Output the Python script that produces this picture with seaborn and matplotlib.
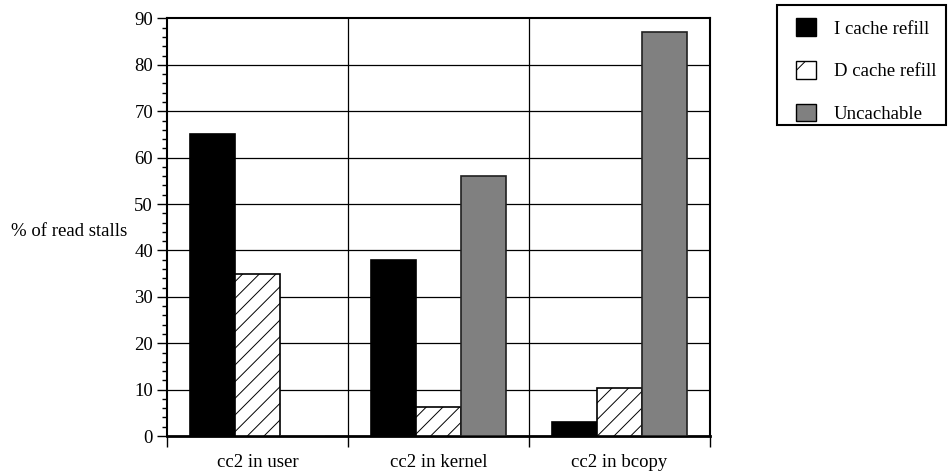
import matplotlib
matplotlib.use("Agg")
import matplotlib.pyplot as plt
from matplotlib.patches import Patch, Rectangle
from matplotlib.ticker import MultipleLocator, FixedLocator
import seaborn as sns
import pandas as pd

# Read-stall breakdown per execution context
contexts = ["cc2 in user", "cc2 in kernel", "cc2 in bcopy"]
stall_types = ["I cache refill", "D cache refill", "Uncachable"]
i_cache = [65, 38, 3]
d_cache = [35, 6.3, 10.3]
uncachable = [0, 56, 87]

df = pd.DataFrame({
    "context": contexts * 3,
    "type": [stall_types[0]] * 3 + [stall_types[1]] * 3 + [stall_types[2]] * 3,
    "pct": i_cache + d_cache + uncachable,
})

sns.set_theme(style="white")
plt.rcParams["font.family"] = ["Liberation Serif", "DejaVu Serif"]
plt.rcParams["hatch.color"] = "black"
plt.rcParams["hatch.linewidth"] = 0.7

colors = {"I cache refill": "#000000", "D cache refill": "#ffffff", "Uncachable": "#808080"}

W, H = 948, 473
fig = plt.figure(figsize=(W / 100, H / 100), dpi=100)
ax = fig.add_axes([167 / W, 1 - 436 / H, 543 / W, (436 - 18.5) / H])

sns.barplot(data=df, x="context", y="pct", hue="type", order=contexts,
            hue_order=stall_types, palette=colors, width=0.75,
            edgecolor="black", linewidth=1.2, legend=False, ax=ax, zorder=3)

# hatch the D-cache bars (patches are ordered by hue, then category)
for i, patch in enumerate(ax.patches):
    t = stall_types[i // len(contexts)]
    patch.set_hatch("//" if t == "D cache refill" else "")
    if t == "Uncachable":
        patch.set_edgecolor("#202020")

ax.set_xlim(-0.5, 2.5)
ax.set_ylim(0, 90)

# grid: horizontal at every 10, vertical at group boundaries
for y in range(10, 90, 10):
    ax.axhline(y, color="black", lw=0.9, zorder=1)
for x in [0.5, 1.5]:
    ax.axvline(x, color="black", lw=0.9, zorder=1)

ax.yaxis.set_major_locator(MultipleLocator(10))
ax.yaxis.set_minor_locator(MultipleLocator(2))
ax.xaxis.set_minor_locator(FixedLocator([-0.5, 0.5, 1.5, 2.5]))
ax.tick_params(axis="y", which="major", direction="out", length=7, width=1.0,
               labelsize=13.5, pad=3, left=True, color="black")
ax.tick_params(axis="y", which="minor", direction="out", length=3.5, width=1.0,
               left=True, color="black")
ax.tick_params(axis="x", which="major", length=0, labelsize=13.5, pad=13)
ax.tick_params(axis="x", which="minor", direction="out", length=8, width=1.0,
               bottom=True, color="black")
for lbl in ax.get_xticklabels() + ax.get_yticklabels():
    lbl.set_color("black")

for side in ["left", "right", "top", "bottom"]:
    ax.spines[side].set_visible(True)
    ax.spines[side].set_color("black")
    ax.spines[side].set_linewidth(1.5)
ax.spines["bottom"].set_linewidth(2)

ax.set_xlabel("")
ax.set_ylabel("% of read stalls", rotation=0, ha="right", va="center",
              fontsize=13.5, color="black")
ax.yaxis.set_label_coords(-0.073, 0.49)

# legend entries, with a square box drawn around them
handles = [
    Patch(facecolor="black", edgecolor="black", label="I cache refill"),
    Patch(facecolor="white", edgecolor="black", hatch="/", label="D cache refill"),
    Patch(facecolor="#808080", edgecolor="black", label="Uncachable"),
]
leg = fig.legend(handles=handles, loc="upper left",
                 bbox_to_anchor=(796 / W, 1 - 18.5 / H), fontsize=13.5,
                 frameon=False, handlelength=1.07, handleheight=1.07,
                 handletextpad=0.95, labelspacing=1.25, borderpad=0,
                 borderaxespad=0)
for txt in leg.get_texts():
    txt.set_color("black")
fig.add_artist(Rectangle((777 / W, 1 - 125 / H), (946 - 777) / W, 120 / H,
                         transform=fig.transFigure, facecolor="none",
                         edgecolor="black", linewidth=1.5))

fig.savefig("out.png", dpi=100)
